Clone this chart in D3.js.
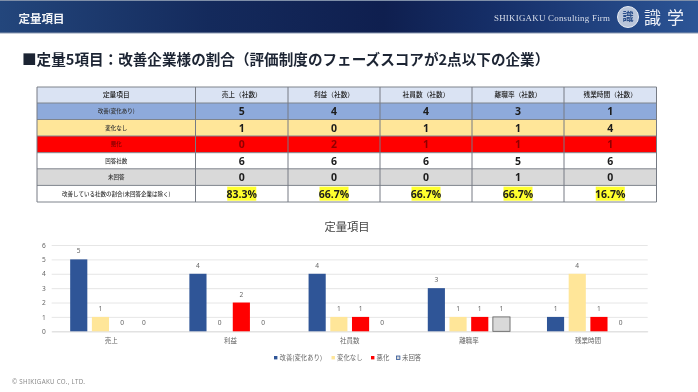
<!DOCTYPE html>
<html lang="ja">
<head>
<meta charset="utf-8">
<script src="https://cdn.jsdelivr.net/npm/d3@7"></script>
<style>
  html, body { margin: 0; padding: 0; background: #fff; }
  svg { display: block; font-family: "Noto Sans CJK JP", "Noto Sans", sans-serif; filter: blur(0.3px); }
</style>
</head>
<body>
<svg id="slide" width="698" height="392"></svg>
<script>
// chart data
const categories = ["売上", "利益", "社員数", "離職率", "残業時間"];
const seriesNames = ["改善(変化あり)", "変化なし", "悪化", "未回答"];
const improved = [5, 4, 4, 3, 1];
const unchanged = [1, 0, 1, 1, 4];
const worsened = [0, 2, 1, 1, 1];
const noAnswer = [0, 0, 0, 1, 0];
const yTicks = [0, 1, 2, 3, 4, 5, 6];

// table data
const tableHeader = ["定量項目", "売上（社数）", "利益（社数）", "社員数（社数）", "離職率（社数）", "残業時間（社数）"];
const rowLabels = ["改善(変化あり)", "変化なし", "悪化", "回答社数", "未回答", "改善している社数の割合(未回答企業は除く)"];
const answered = [6, 6, 6, 5, 6];
const ratios = ["83.3%", "66.7%", "66.7%", "66.7%", "16.7%"];

const seriesValues = [improved, unchanged, worsened, noAnswer];
const seriesFill = ["#2f5597", "#ffe699", "#ff0000", "#d9d9d9"];
const tableRows = [improved, unchanged, worsened, answered, noAnswer, ratios];
const rowFill = ["#8eaadb", "#ffe699", "#ff0000", "#ffffff", "#d9d9d9", "#ffffff"];

const svg = d3.select("#slide");
const defs = svg.append("defs");

// --- HEADER BAR ---
const grad = defs.append("linearGradient").attr("id", "headerGrad");
grad.selectAll("stop")
  .data([[0, "#23467c"], [0.3, "#142a5c"], [0.55, "#0f1f4f"], [0.72, "#16306a"], [1, "#2c5596"]])
  .join("stop")
  .attr("offset", d => d[0])
  .attr("stop-color", d => d[1]);

svg.append("rect").attr("width", 698).attr("height", 33).attr("fill", "url(#headerGrad)");
svg.append("rect").attr("width", 698).attr("height", 1).attr("fill", "#7f8fa8");
svg.append("rect").attr("y", 32.5).attr("width", 698).attr("height", 1).attr("fill", "#8c9ab2");

svg.append("text").attr("x", 18.5).attr("y", 22.5)
  .attr("font-size", 11.5).attr("font-weight", 700).attr("fill", "#f2f4f8")
  .text("定量項目");
svg.append("text").attr("x", 494).attr("y", 20.5)
  .attr("font-family", "'Liberation Serif', serif")
  .attr("font-size", 8.9).attr("fill", "#d8deea").attr("letter-spacing", 0.25)
  .text("SHIKIGAKU Consulting Firm");

// small seal logo
svg.append("circle").attr("cx", 628).attr("cy", 17).attr("r", 10.5)
  .attr("fill", "#b9c5da").attr("stroke", "#e6ebf3").attr("stroke-width", 1);
svg.append("text").attr("x", 628).attr("y", 21).attr("text-anchor", "middle")
  .attr("font-size", 11).attr("font-weight", 700).attr("fill", "#2c4f8a").text("識");
svg.append("text").attr("x", 644).attr("y", 23.5)
  .attr("font-family", "'Noto Sans CJK JP', serif")
  .attr("font-size", 17).attr("fill", "#eef1f7").attr("letter-spacing", 6)
  .text("識学");

// --- SLIDE TITLE ---
svg.append("text").attr("x", 22).attr("y", 64.5)
  .attr("font-size", 14.6).attr("font-weight", 700).attr("fill", "#1c2433")
  .text("■定量5項目：改善企業様の割合（評価制度のフェーズスコアが2点以下の企業）");

// --- TABLE ---
const colEdges = [37, 195.5, 288, 380, 472, 564, 656.5];
const rowEdges = [87, 103, 119.5, 136, 152.7, 168.8, 185.4, 202];

const table = svg.append("g");

table.selectAll(".row-bg")
  .data(["#dae3f3"].concat(rowFill))
  .join("rect")
  .attr("class", "row-bg")
  .attr("x", colEdges[0])
  .attr("y", (d, i) => rowEdges[i])
  .attr("width", colEdges[6] - colEdges[0])
  .attr("height", (d, i) => rowEdges[i + 1] - rowEdges[i])
  .attr("fill", d => d);

table.selectAll(".h-line")
  .data(rowEdges)
  .join("line")
  .attr("class", "h-line")
  .attr("x1", colEdges[0]).attr("x2", colEdges[6])
  .attr("y1", d => d).attr("y2", d => d)
  .attr("stroke", "#7f848c").attr("stroke-width", 1);

table.selectAll(".v-line")
  .data(colEdges)
  .join("line")
  .attr("class", "v-line")
  .attr("y1", rowEdges[0]).attr("y2", rowEdges[7])
  .attr("x1", d => d).attr("x2", d => d)
  .attr("stroke", "#767b84").attr("stroke-width", 1);

const colMid = i => (colEdges[i] + colEdges[i + 1]) / 2;
const rowMid = i => (rowEdges[i] + rowEdges[i + 1]) / 2;

table.selectAll(".head")
  .data(tableHeader)
  .join("text")
  .attr("class", "head")
  .attr("x", (d, i) => colMid(i))
  .attr("y", rowMid(0) + 2.4)
  .attr("text-anchor", "middle")
  .attr("font-size", 6.7)
  .attr("font-weight", 500)
  .attr("fill", "#222")
  .text(d => d);

table.selectAll(".row-label")
  .data(rowLabels)
  .join("text")
  .attr("class", "row-label")
  .attr("x", colMid(0))
  .attr("y", (d, i) => rowMid(i + 1) + 1.9)
  .attr("text-anchor", "middle")
  .attr("font-size", 5.5)
  .attr("font-weight", 500)
  .attr("fill", d => d === "悪化" ? "#7a0000" : "#333")
  .text(d => d);

tableRows.forEach((vals, r) => {
  const isRatio = r === 5;
  const cell = table.append("g").selectAll("g")
    .data(vals)
    .join("g")
    .attr("transform", (d, i) => `translate(${colMid(i + 1)},${rowMid(r + 1)})`);

  if (isRatio) {
    cell.append("rect")
      .attr("x", -14.5).attr("y", -7).attr("width", 29).attr("height", 14)
      .attr("fill", "#ffff2e");
  }
  cell.append("text")
    .attr("y", 4)
    .attr("text-anchor", "middle")
    .attr("font-family", "'Open Sans', sans-serif")
    .attr("font-size", 10.5)
    .attr("font-weight", 700)
    .attr("fill", r === 2 ? "#8f0000" : "#1c1c1c")
    .text(d => d);
});

// --- BAR CHART ---
const plot = { left: 51.7, right: 647.7, top: 245, bottom: 331.3 };

svg.append("text").attr("x", 347).attr("y", 230.5)
  .attr("text-anchor", "middle")
  .attr("font-size", 11.3)
  .attr("fill", "#444")
  .text("定量項目");

const x0 = d3.scaleBand()
  .domain(categories)
  .range([plot.left, plot.right])
  .paddingInner(0.31)
  .paddingOuter(0.155);
const x1 = d3.scaleBand()
  .domain(seriesNames)
  .range([0, x0.bandwidth()])
  .paddingInner(0.21);
const y = d3.scaleLinear().domain([0, 6]).range([plot.bottom, plot.top]);

const yAxis = svg.append("g")
  .attr("transform", `translate(${plot.left},0)`)
  .call(d3.axisLeft(y).tickValues(yTicks).tickFormat(d3.format("d")).tickSize(-(plot.right - plot.left)).tickPadding(6));
yAxis.select(".domain").remove();
yAxis.selectAll(".tick line").attr("stroke", "#e0e0e0").attr("stroke-width", 0.8);
yAxis.selectAll(".tick text").attr("font-size", 6.6).attr("fill", "#666").attr("font-family", "'Noto Sans', sans-serif");

const xAxis = svg.append("g")
  .attr("transform", `translate(0,${plot.bottom})`)
  .call(d3.axisBottom(x0).tickSize(0).tickPadding(7));
xAxis.select(".domain").attr("stroke", "#d9d9d9").attr("stroke-width", 0.8);
xAxis.selectAll(".tick text").attr("font-size", 6.5).attr("fill", "#666").attr("font-family", "'Noto Sans CJK JP', sans-serif");

const groups = svg.append("g").selectAll("g")
  .data(seriesNames)
  .join("g")
  .attr("fill", (d, i) => seriesFill[i]);

groups.each(function(name, s) {
  const g = d3.select(this);
  const vals = seriesValues[s];

  g.selectAll("rect")
    .data(vals)
    .join("rect")
    .attr("x", (d, i) => x0(categories[i]) + x1(name))
    .attr("y", d => y(d))
    .attr("width", x1.bandwidth())
    .attr("height", d => y(0) - y(d))
    .attr("stroke", (d, i) => s === 3 && d > 0 ? "#595959" : "none")
    .attr("stroke-width", 0.8);

  g.selectAll("text")
    .data(vals)
    .join("text")
    .attr("x", (d, i) => x0(categories[i]) + x1(name) + x1.bandwidth() / 2)
    .attr("y", d => y(d) - 6)
    .attr("text-anchor", "middle")
    .attr("font-size", 6.6)
    .attr("font-family", "'Noto Sans', sans-serif")
    .attr("fill", "#666")
    .text(d => d);
});

// legend
const legendX = [274, 331.5, 371, 396.5];
const legend = svg.append("g").selectAll("g")
  .data(seriesNames)
  .join("g")
  .attr("transform", (d, i) => `translate(${legendX[i]},356)`);
legend.append("rect")
  .attr("width", 3.4).attr("height", 3.4)
  .attr("fill", (d, i) => seriesFill[i])
  .attr("stroke", (d, i) => i === 3 ? "#2f5597" : "none")
  .attr("stroke-width", 0.8);
legend.append("text")
  .attr("x", 5.5).attr("y", 4)
  .attr("font-size", 6.4)
  .attr("fill", "#666")
  .text(d => d);

// footer
svg.append("text").attr("x", 12).attr("y", 384.3)
  .attr("font-family", "'Noto Sans', sans-serif")
  .attr("font-size", 6.2).attr("fill", "#8a8a8a").attr("letter-spacing", 0.3)
  .text("© SHIKIGAKU CO., LTD.");
</script>
</body>
</html>
